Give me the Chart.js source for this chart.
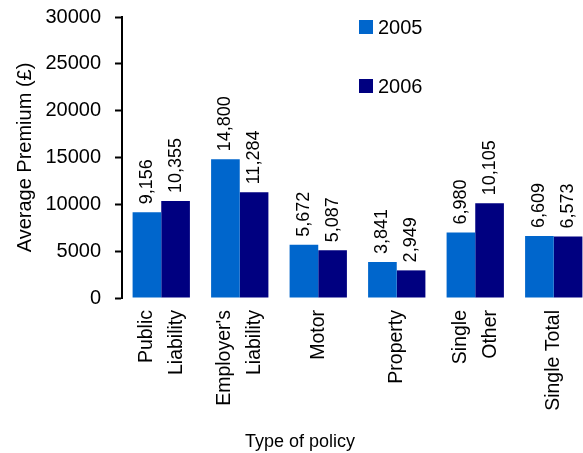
<!DOCTYPE html>
<html>
<head>
<meta charset="utf-8">
<script src="https://cdn.jsdelivr.net/npm/chart.js@4/dist/chart.umd.min.js"></script>
<style>
  html, body { margin: 0; padding: 0; background: #fff; overflow: hidden; }
  #wrap { width: 600px; height: 453px; }
</style>
</head>
<body>
<div id="wrap"><canvas id="premiumChart"></canvas></div>
<script>
const categories = [['Public', 'Liability'], ["Employer's", 'Liability'], 'Motor', 'Property', ['Single', 'Other'], 'Single Total'];
const values2005 = [9156, 14800, 5672, 3841, 6980, 6609];
const values2006 = [10355, 11284, 5087, 2949, 10105, 6573];
const seriesNames = ['2005', '2006'];
const seriesColors = ['#0066cc', '#000080'];
const yMin = 0;
const yMax = 30000;
const yStep = 5000;
const xTitle = 'Type of policy';
const yTitle = 'Average Premium (£)';

const FONT = "'Liberation Sans', Arial, sans-serif";

// Value labels above each bar, rotated
const barLabels = {
    id: 'barLabels',
    afterDatasetsDraw(chart) {
        const ctx = chart.ctx;
        ctx.save();
        ctx.font = '18px ' + FONT;
        ctx.fillStyle = '#000';
        ctx.textAlign = 'left';
        ctx.textBaseline = 'middle';
        chart.data.datasets.forEach(function (ds, i) {
            chart.getDatasetMeta(i).data.forEach(function (bar, j) {
                ctx.save();
                ctx.translate(bar.x, bar.y - 8);
                ctx.rotate(-Math.PI / 2);
                ctx.fillText(ds.data[j].toLocaleString('en-US'), 0, 0);
                ctx.restore();
            });
        });
        ctx.restore();
    }
};

// Category labels (rotated, lines side by side and centred) and the x title
const xLabels = {
    id: 'xLabels',
    afterDraw(chart) {
        const ctx = chart.ctx;
        const xs = chart.scales.x;
        const top = chart.chartArea.bottom + 12;
        ctx.save();
        ctx.fillStyle = '#000';
        ctx.font = '19.5px ' + FONT;
        ctx.textAlign = 'right';
        ctx.textBaseline = 'middle';
        chart.data.labels.forEach(function (lab, i) {
            const lines = Array.isArray(lab) ? lab : [lab];
            const px = xs.getPixelForTick(i);
            lines.forEach(function (line, k) {
                ctx.save();
                ctx.translate(px + (k - (lines.length - 1) / 2) * 30, top);
                ctx.rotate(-Math.PI / 2);
                ctx.fillText(line, 0, 0);
                ctx.restore();
            });
        });
        ctx.font = '18px ' + FONT;
        ctx.textAlign = 'center';
        ctx.textBaseline = 'alphabetic';
        ctx.fillText(xTitle, 300, 447);
        ctx.restore();
    }
};

// Legend drawn inside the plot, one entry per row
const innerLegend = {
    id: 'innerLegend',
    afterDraw(chart) {
        const ctx = chart.ctx;
        ctx.save();
        ctx.font = '20px ' + FONT;
        ctx.textBaseline = 'middle';
        chart.data.datasets.forEach(function (ds, i) {
            const y = 27 + i * 59;
            ctx.fillStyle = ds.backgroundColor;
            ctx.fillRect(359, y - 7, 14, 14);
            ctx.fillStyle = '#000';
            ctx.fillText(ds.label, 378, y + 1);
        });
        ctx.restore();
    }
};

document.addEventListener('DOMContentLoaded', function () {
    Chart.defaults.color = '#000';
    Chart.defaults.font.family = FONT;
    const ctx = document.getElementById('premiumChart');
    new Chart(ctx, {
        type: 'bar',
        data: {
            labels: categories,
            datasets: [
                { label: seriesNames[0], data: values2005, backgroundColor: seriesColors[0] },
                { label: seriesNames[1], data: values2006, backgroundColor: seriesColors[1] }
            ]
        },
        options: {
            responsive: true,
            maintainAspectRatio: false,
            animation: false,
            events: [],
            layout: { padding: { left: 13, right: 7, top: 17, bottom: 0 } },
            datasets: { bar: { categoryPercentage: 0.73, barPercentage: 1 } },
            plugins: {
                legend: { display: false },
                tooltip: { enabled: false }
            },
            scales: {
                x: {
                    grid: { display: false, drawTicks: false },
                    border: { display: false },
                    ticks: { display: false },
                    afterFit: function (scale) { scale.height = 155; }
                },
                y: {
                    min: yMin,
                    max: yMax,
                    grid: {
                        drawOnChartArea: false,
                        drawTicks: true,
                        tickLength: 7,
                        tickColor: '#000',
                        tickWidth: 2
                    },
                    border: { display: true, color: '#000', width: 2 },
                    ticks: {
                        stepSize: yStep,
                        padding: 14,
                        font: { size: 20 },
                        callback: function (v) { return String(v); }
                    },
                    title: {
                        display: true,
                        text: yTitle,
                        font: { size: 20 },
                        padding: { top: 0, bottom: 6 }
                    },
                    afterFit: function (scale) {
                        scale.width = 109;
                        scale.paddingTop = 0;
                        scale.paddingBottom = 0;
                    }
                }
            }
        },
        plugins: [barLabels, xLabels, innerLegend]
    });
});
</script>
</body>
</html>
